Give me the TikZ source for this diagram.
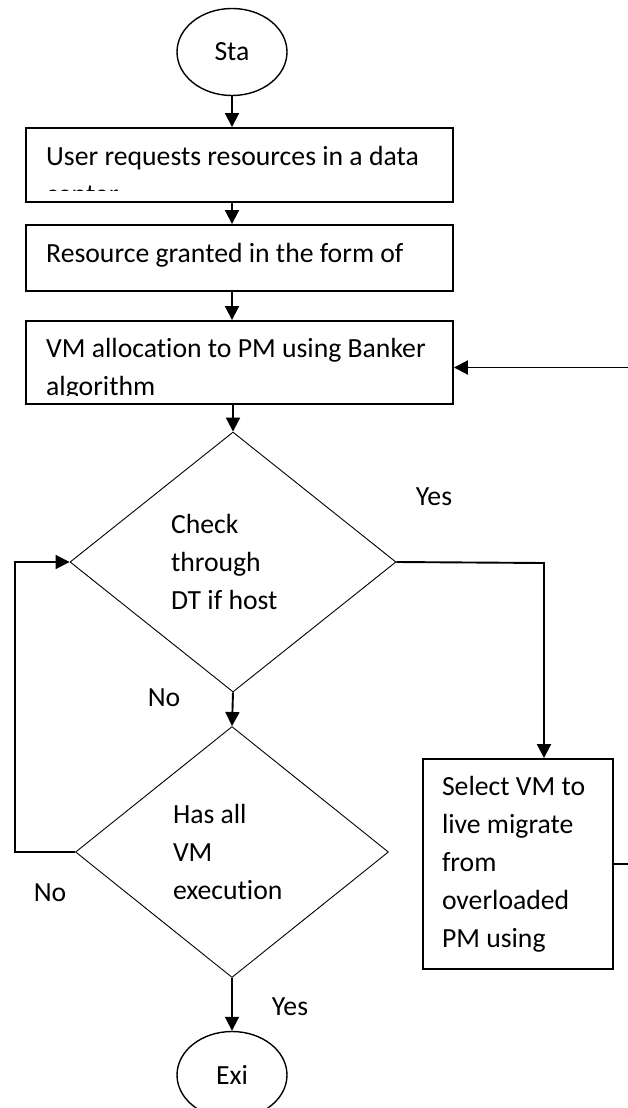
\documentclass[tikz,border=0pt]{standalone}
\usepackage{fontspec}
\setmainfont[Ligatures=NoCommon]{Carlito}
\usetikzlibrary{shapes.geometric,arrows.meta,calc}

\begin{document}
\begin{tikzpicture}[x=1pt,y=-1pt]
	\tikzstyle{every node}+=[inner sep=0pt, font=\fontsize{27.7}{38}\selectfont]
	\tikzstyle{terminal}=[draw, ellipse, line width=1.4pt, minimum width=110, minimum height=87]
	\tikzstyle{procbox}=[draw, rectangle, line width=1.9pt]
	\tikzstyle{boxtext}=[align=flush left]
	\tikzstyle{decision}=[draw, diamond, line width=0.9pt, align=flush left]
	\tikzstyle{conn}=[line width=1.9pt, -{Triangle[length=14pt,width=14pt]}]
	\clip (0,0) rectangle (628,1108);
	% flow column
	\node[terminal] (start) at (232,52) {Sta};
	\node[procbox, minimum width=427, minimum height=74] (request) at (239.5,165) {};
	\node[procbox, minimum width=427, minimum height=66] (grant) at (239.5,258) {};
	\node[procbox, minimum width=427, minimum height=83] (alloc) at (239.5,362.5) {};
	\node[decision, minimum width=326, minimum height=260, text width=124] (check) at (233,562) {Check\\through\\DT if host};
	\node[decision, minimum width=313, minimum height=251, text width=118] (hasall) at (232,852) {Has all\\VM\\execution};
	\node[procbox, minimum width=190, minimum height=210, text width=152, align=flush left] (select) at (518,864) {Select VM to\\live migrate\\from\\overloaded\\PM using};
	\node[terminal] (exit) at (232,1075) {Exi};
	% box texts, cut at the box bottom
	\begin{scope}
		\clip (request.north west) rectangle ($(request.south east)+(0,-12)$);
		\node[boxtext, anchor=base west] (requesttxt) at (46,203) {User requests resources in a data\\center};
	\end{scope}
	\node[boxtext, anchor=base west] (granttxt) at (46,262) {Resource granted in the form of};
	\begin{scope}
		\clip (alloc.north west) rectangle ($(alloc.south east)+(0,-9)$);
		\node[boxtext, anchor=base west] (alloctxt) at (46,395) {VM allocation to PM using Banker\\algorithm};
	\end{scope}
	% labels
	\node (yesmig) at (434,497) {Yes};
	\node (nocheck) at (164,698) {No};
	\node (noloop) at (50,893) {No};
	\node (yesexit) at (290,1007) {Yes};
	% turning points
	\coordinate (yesturn) at (544,563);
	\coordinate (loopturn) at (15,852);
	\coordinate (backturn) at (660,865);
	% connectors
	\draw[conn] (start) -- (start |- request.north);
	\draw[conn] (request.south -| start) -- (start |- grant.north);
	\draw[conn] (grant.south -| start) -- (start |- alloc.north);
	\draw[conn] (alloc.south -| check) -- (check.north);
	\draw[conn] (check.south) -- (hasall.north);
	\draw[conn] (hasall.south) -- (exit.north);
	\draw[conn] (check.east) -- (yesturn) -- (yesturn |- select.north);
	\draw[conn] (hasall.west) -- (loopturn) |- (check.west);
	\draw[conn] (select.east) -| (backturn) |- ([yshift=-5pt]alloc.east);
\end{tikzpicture}
\end{document}
